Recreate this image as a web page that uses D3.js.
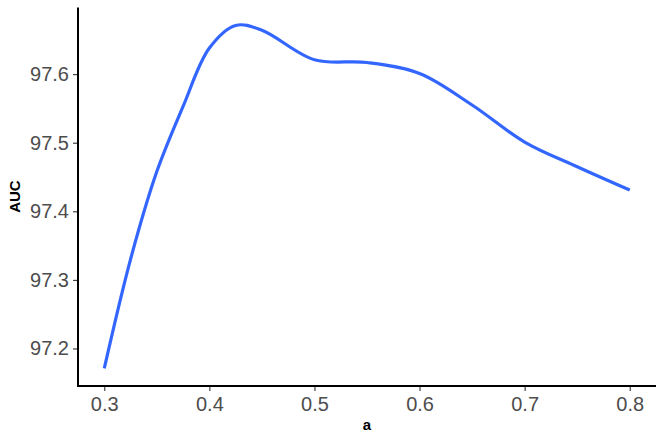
<!DOCTYPE html>
<html>
<head>
<meta charset="utf-8">
<script src="https://cdn.jsdelivr.net/npm/d3@7"></script>
<style>
  html, body { margin: 0; padding: 0; background: #fff; }
  svg { display: block; font-family: "Liberation Sans", Arial, Helvetica, sans-serif; }
</style>
</head>
<body>
<svg id="chart" width="664" height="443"></svg>
<script>
// Data
const aValues   = [0.300, 0.325, 0.350, 0.375, 0.400, 0.425, 0.450, 0.500, 0.550, 0.600, 0.650, 0.700, 0.750, 0.800];
const aucValues = [97.171, 97.330, 97.458, 97.553, 97.638, 97.671, 97.664, 97.621, 97.617, 97.601, 97.555, 97.501, 97.465, 97.431];
const xTicks = [0.3, 0.4, 0.5, 0.6, 0.7, 0.8];
const yTicks = [97.2, 97.3, 97.4, 97.5, 97.6];
const xLabel = "a";
const yLabel = "AUC";

const svg = d3.select("#chart");
const pLeft = 78, pRight = 656, pTop = 7.6, pBottom = 385.5;

const x = d3.scaleLinear().domain([0.275, 0.825]).range([pLeft, pRight]);
const y = d3.scaleLinear().domain([97.146, 97.697]).range([pBottom, pTop]);

const data = aValues.map((a, i) => ({ a, auc: aucValues[i] }));

const line = d3.line()
  .x(d => x(d.a))
  .y(d => y(d.auc))
  .curve(d3.curveCatmullRom.alpha(0.5));

svg.append("path")
  .datum(data)
  .attr("d", line)
  .attr("fill", "none")
  .attr("stroke", "#3366FF")
  .attr("stroke-width", 3.2)
  .attr("stroke-linecap", "butt");

// axes
const xAxis = d3.axisBottom(x).tickValues(xTicks).tickFormat(d3.format(".1f")).tickSize(5).tickPadding(4);
const yAxis = d3.axisLeft(y).tickValues(yTicks).tickFormat(d3.format(".1f")).tickSize(5).tickPadding(4);

const gx = svg.append("g").attr("transform", `translate(0,${pBottom + 0.5})`).call(xAxis);
const gy = svg.append("g").attr("transform", `translate(${pLeft},0)`).call(yAxis);

[gx, gy].forEach(g => {
  g.select(".domain").remove();
  g.selectAll(".tick line").attr("stroke", "#333333").attr("stroke-width", 1.1);
  g.selectAll(".tick text")
    .attr("fill", "#4D4D4D")
    .style("font-size", "20px")
    .style("font-family", "'Liberation Sans', Arial, sans-serif");
});
gx.selectAll(".tick text").attr("dy", "0.78em");

// axis lines
svg.append("line")
  .attr("x1", pLeft - 1).attr("x2", pRight)
  .attr("y1", pBottom + 0.5).attr("y2", pBottom + 0.5)
  .attr("stroke", "#000").attr("stroke-width", 2);
svg.append("line")
  .attr("x1", pLeft).attr("x2", pLeft)
  .attr("y1", pTop).attr("y2", pBottom + 1.5)
  .attr("stroke", "#000").attr("stroke-width", 2);

// axis titles
svg.append("text")
  .attr("x", (pLeft + pRight) / 2)
  .attr("y", 430)
  .attr("text-anchor", "middle")
  .style("font-size", "15px")
  .style("font-weight", "bold")
  .attr("fill", "#000")
  .text(xLabel);

svg.append("text")
  .attr("transform", `translate(20,${(pTop + pBottom) / 2}) rotate(-90)`)
  .attr("text-anchor", "middle")
  .style("font-size", "15px")
  .style("font-weight", "bold")
  .attr("fill", "#000")
  .text(yLabel);
</script>
</body>
</html>
